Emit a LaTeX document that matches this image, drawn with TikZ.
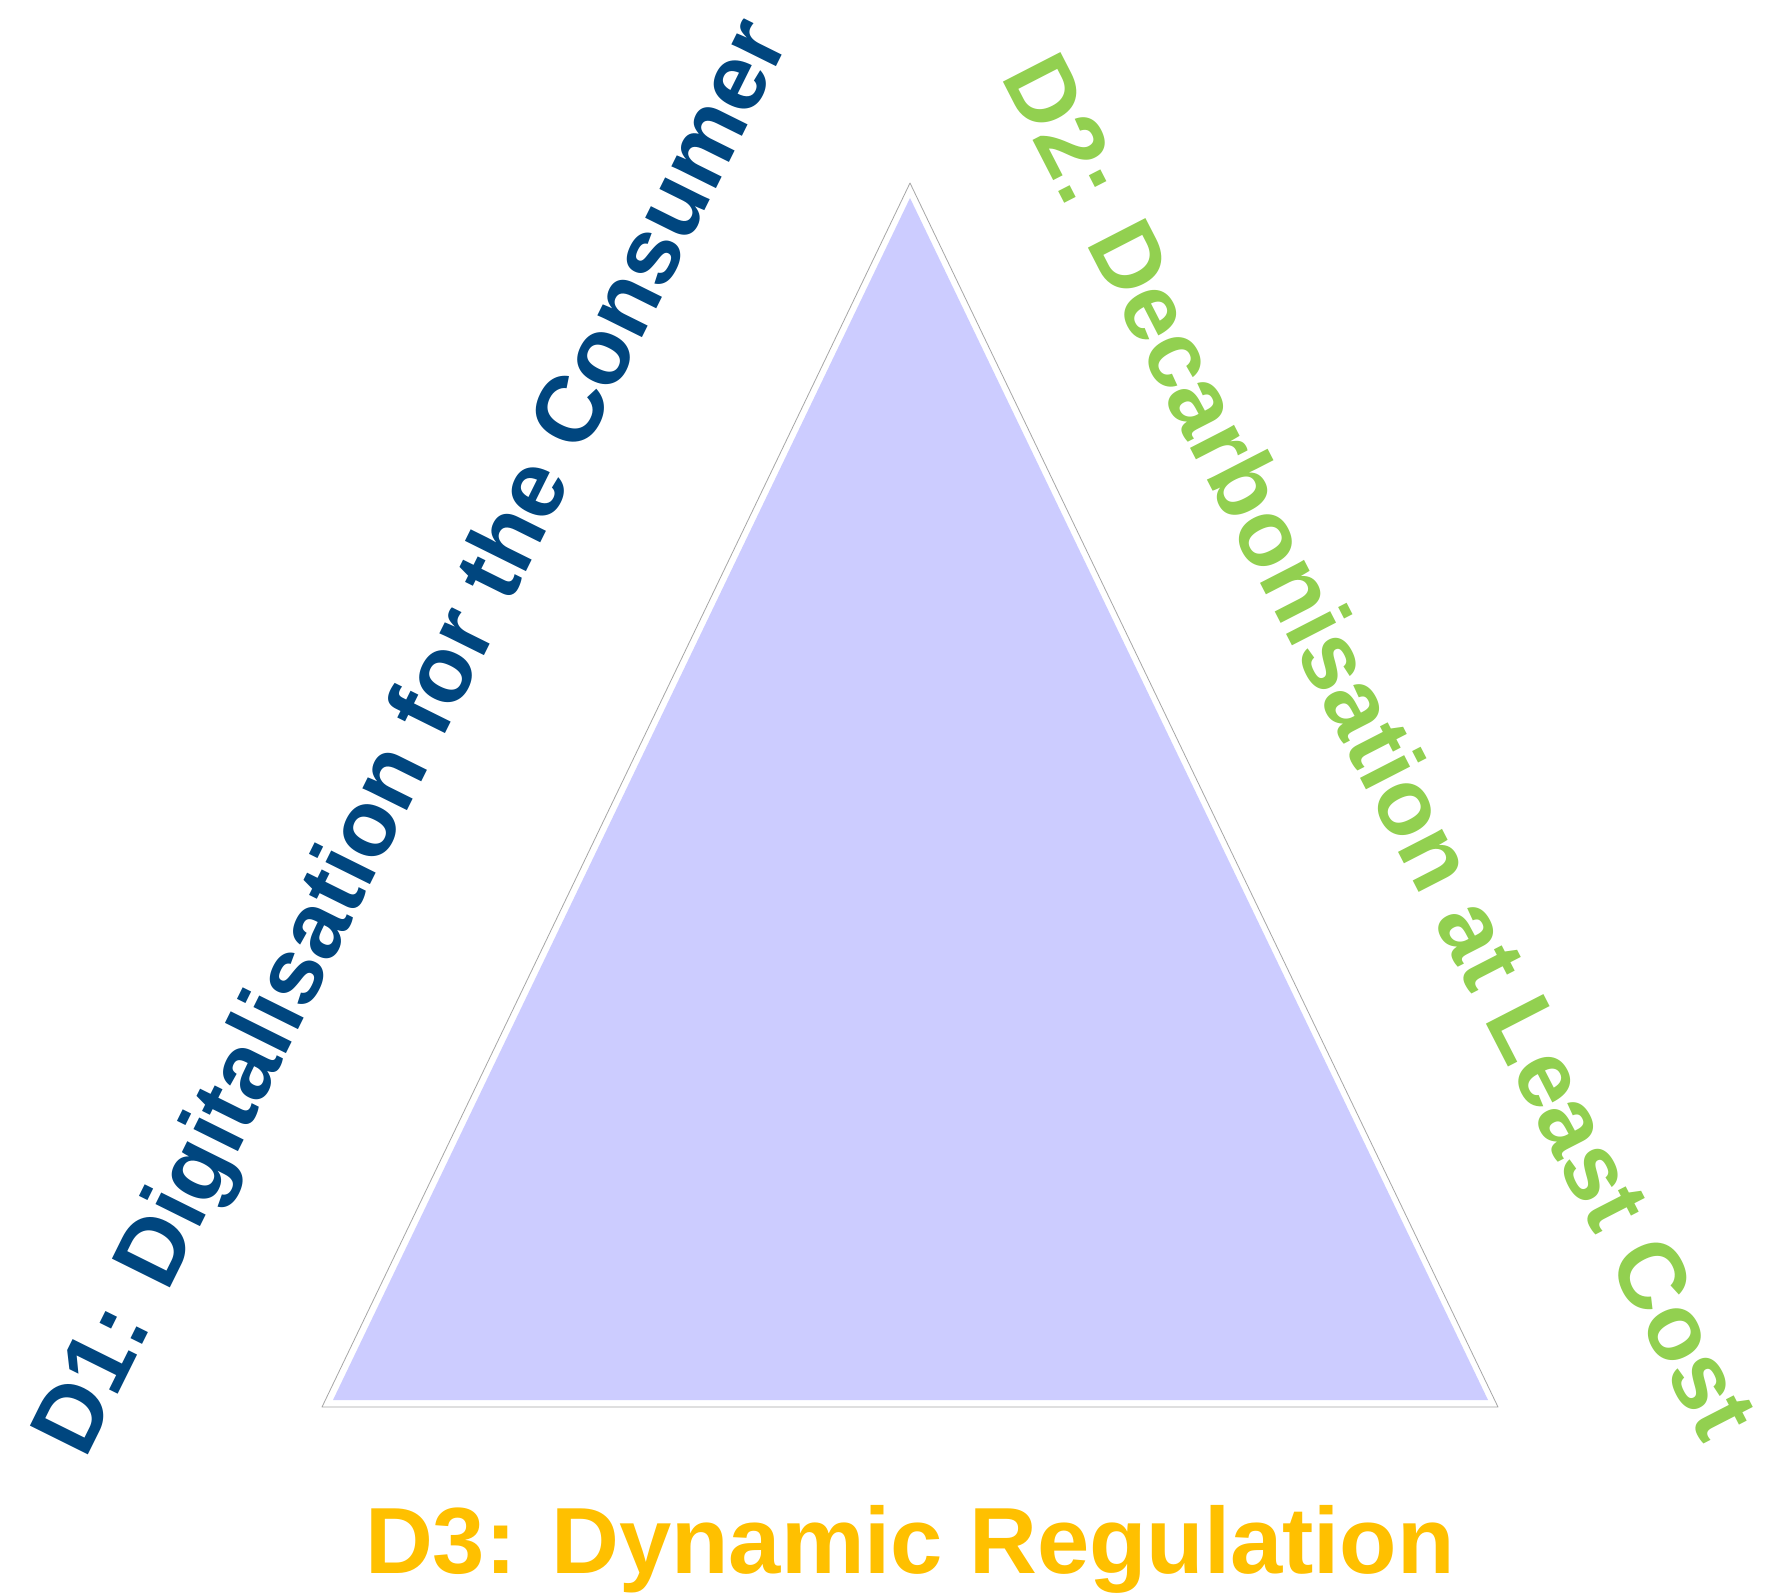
\documentclass[tikz,border=0pt]{standalone}
\usepackage{fontspec}
\setmainfont{Liberation Sans}
\definecolor{dblue}{HTML}{00467F}
\definecolor{dgreen}{HTML}{92D050}
\definecolor{dorange}{HTML}{FFC000}
\definecolor{tfill}{HTML}{CCCCFF}
\begin{document}
\begin{tikzpicture}[x=1pt,y=-1pt,
  lbl/.style={inner sep=0pt,outer sep=0pt,font=\fontsize{94}{94}\selectfont\bfseries}]
\useasboundingbox (0,0) rectangle (1776,1592);
\fill[white] (0,0) rectangle (1776,1592);
% triangle
\coordinate (A) at (910,183);
\coordinate (B) at (322,1407);
\coordinate (C) at (1498,1407);
\coordinate (Ai) at (910,198);
\coordinate (Bi) at (333,1400);
\coordinate (Ci) at (1488,1400);
\draw[fill=white,draw=black!35,line width=0.8pt,line join=round] (A) -- (B) -- (C) -- cycle;
\fill[tfill] (Ai) -- (Bi) -- (Ci) -- cycle;
% labels
\node[lbl,text=dblue,anchor=base west,rotate=63.6] (d1) at (85,1460) {D1: Digitalisation for the Consumer};
\node[lbl,text=dgreen,anchor=base west,rotate=-62.8] (d2) at (1000,77) {D2: Decarbonisation at Least Cost};
\node[lbl,text=dorange,anchor=base west] (d3) at (365,1573) {D3: Dynamic Regulation};
\end{tikzpicture}
\end{document}
